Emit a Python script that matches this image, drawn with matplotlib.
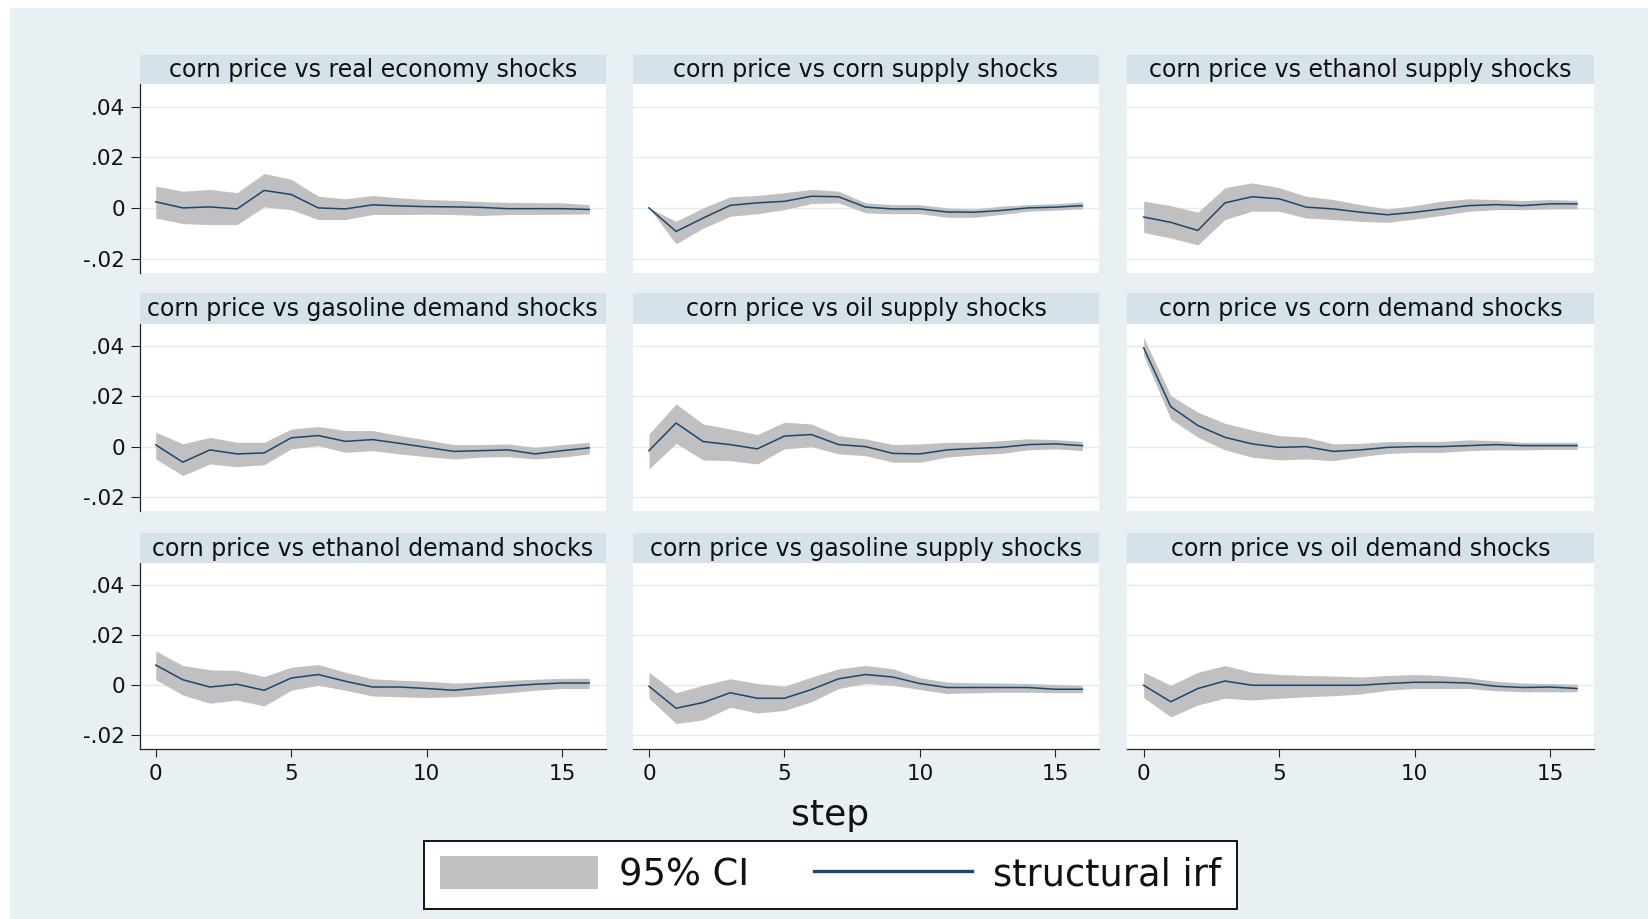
import numpy as np
import matplotlib
matplotlib.use("Agg")
import matplotlib.pyplot as plt
from matplotlib.patches import Rectangle, Patch
from matplotlib.lines import Line2D

plt.rcParams['font.family'] = ['DejaVu Sans']

# ---------------------------------------------------------------- data
steps = np.arange(17)

panel_titles = [
    "corn price vs real economy shocks",
    "corn price vs corn supply shocks",
    "corn price vs ethanol supply shocks",
    "corn price vs gasoline demand shocks",
    "corn price vs oil supply shocks",
    "corn price vs corn demand shocks",
    "corn price vs ethanol demand shocks",
    "corn price vs gasoline supply shocks",
    "corn price vs oil demand shocks",
]

# structural impulse responses
irf_real_economy = [.0024, .0000, .0004, -.0004, .0069, .0053, .0000, -.0004, .0012,
                    .0008, .0005, .0004, .0002, -.0003, -.0003, -.0003, -.0006]
irf_corn_supply = [.0000, -.0093, -.0040, .0010, .0020, .0026, .0046, .0044, .0003,
                   -.0004, -.0004, -.0016, -.0017, -.0010, .0000, .0003, .0009]
irf_ethanol_supply = [-.0036, -.0057, -.0089, .0020, .0044, .0036, .0003, -.0004, -.0017,
                      -.0027, -.0017, -.0004, .0009, .0013, .0009, .0016, .0016]
irf_gasoline_demand = [.0007, -.0062, -.0013, -.0029, -.0025, .0035, .0044, .0021, .0028,
                       .0013, -.0003, -.0019, -.0016, -.0013, -.0029, -.0016, -.0005]
irf_oil_supply = [-.0016, .0094, .0020, .0008, -.0009, .0042, .0048, .0008, .0000,
                  -.0027, -.0029, -.0013, -.0007, -.0003, .0008, .0011, .0004]
irf_corn_demand = [.0393, .0159, .0084, .0037, .0011, -.0003, .0000, -.0019, -.0013,
                   -.0003, .0000, .0000, .0004, .0008, .0004, .0004, .0004]
irf_ethanol_demand = [.0081, .0022, -.0007, .0004, -.0020, .0029, .0043, .0016, -.0007,
                      -.0007, -.0013, -.0020, -.0010, -.0003, .0004, .0009, .0009]
irf_gasoline_supply = [-.0004, -.0092, -.0069, -.0030, -.0052, -.0052, -.0017, .0026, .0043,
                       .0033, .0007, -.0009, -.0009, -.0009, -.0009, -.0016, -.0016]
irf_oil_demand = [.0000, -.0066, -.0013, .0017, .0000, .0000, .0000, .0000, .0000,
                  .0007, .0012, .0012, .0009, -.0004, -.0009, -.0007, -.0013]

# upper 95% confidence bounds
ci_hi_real_economy = [.0086, .0066, .0073, .0060, .0136, .0113, .0046, .0036, .0049,
                      .0040, .0033, .0030, .0025, .0022, .0021, .0020, .0013]
ci_hi_corn_supply = [.0000, -.0053, .0000, .0044, .0049, .0060, .0073, .0066, .0020,
                     .0013, .0013, .0000, -.0004, .0007, .0013, .0017, .0023]
ci_hi_ethanol_supply = [.0027, .0009, -.0017, .0080, .0099, .0080, .0046, .0033, .0013,
                        -.0004, .0009, .0027, .0036, .0033, .0029, .0033, .0030]
ci_hi_gasoline_demand = [.0057, .0011, .0037, .0017, .0017, .0070, .0080, .0064, .0064,
                         .0044, .0027, .0008, .0008, .0011, -.0003, .0008, .0017]
ci_hi_oil_supply = [.0050, .0170, .0090, .0070, .0048, .0097, .0090, .0044, .0031,
                    .0008, .0011, .0017, .0017, .0024, .0031, .0028, .0021]
ci_hi_corn_demand = [.0435, .0203, .0137, .0093, .0066, .0044, .0037, .0011, .0013,
                     .0020, .0021, .0021, .0027, .0024, .0017, .0017, .0017]
ci_hi_ethanol_demand = [.0138, .0079, .0062, .0059, .0035, .0072, .0083, .0052, .0026,
                        .0020, .0016, .0009, .0013, .0020, .0024, .0028, .0028]
ci_hi_gasoline_supply = [.0052, -.0030, .0000, .0026, .0007, -.0004, .0033, .0066, .0079,
                         .0066, .0030, .0013, .0010, .0009, .0007, .0003, .0000]
ci_hi_oil_demand = [.0052, .0000, .0052, .0079, .0052, .0043, .0039, .0037, .0033,
                    .0039, .0043, .0039, .0030, .0016, .0009, .0007, .0004]

# lower 95% confidence bounds
ci_lo_real_economy = [-.0040, -.0062, -.0066, -.0066, .0004, -.0007, -.0046, -.0046, -.0026,
                      -.0026, -.0025, -.0026, -.0030, -.0026, -.0026, -.0025, -.0024]
ci_lo_corn_supply = [.0000, -.0142, -.0080, -.0033, -.0023, -.0007, .0017, .0020, -.0020,
                     -.0023, -.0023, -.0037, -.0037, -.0026, -.0013, -.0009, -.0004]
ci_lo_ethanol_supply = [-.0097, -.0119, -.0146, -.0046, -.0013, -.0013, -.0040, -.0046, -.0053,
                        -.0057, -.0044, -.0030, -.0013, -.0007, -.0007, -.0004, -.0004]
ci_lo_gasoline_demand = [-.0049, -.0115, -.0069, -.0080, -.0072, -.0009, .0004, -.0023, -.0016,
                         -.0029, -.0040, -.0049, -.0042, -.0040, -.0049, -.0042, -.0029]
ci_lo_oil_supply = [-.0089, .0013, -.0053, -.0056, -.0069, -.0009, .0000, -.0029, -.0036,
                    -.0062, -.0062, -.0042, -.0033, -.0027, -.0013, -.0009, -.0016]
ci_lo_corn_demand = [.0362, .0110, .0037, -.0013, -.0042, -.0053, -.0049, -.0056, -.0040,
                     -.0027, -.0023, -.0023, -.0016, -.0013, -.0013, -.0011, -.0011]
ci_lo_ethanol_demand = [.0022, -.0039, -.0072, -.0059, -.0083, -.0020, .0000, -.0020, -.0043,
                        -.0046, -.0049, -.0046, -.0039, -.0030, -.0020, -.0013, -.0013]
ci_lo_gasoline_supply = [-.0052, -.0153, -.0138, -.0088, -.0111, -.0101, -.0066, -.0013, .0007,
                         .0000, -.0017, -.0033, -.0030, -.0028, -.0028, -.0030, -.0030]
ci_lo_oil_demand = [-.0049, -.0127, -.0079, -.0052, -.0059, -.0052, -.0046, -.0042, -.0035,
                    -.0020, -.0013, -.0013, -.0013, -.0022, -.0026, -.0026, -.0026]

irfs = [irf_real_economy, irf_corn_supply, irf_ethanol_supply,
        irf_gasoline_demand, irf_oil_supply, irf_corn_demand,
        irf_ethanol_demand, irf_gasoline_supply, irf_oil_demand]
ci_hi = [ci_hi_real_economy, ci_hi_corn_supply, ci_hi_ethanol_supply,
         ci_hi_gasoline_demand, ci_hi_oil_supply, ci_hi_corn_demand,
         ci_hi_ethanol_demand, ci_hi_gasoline_supply, ci_hi_oil_demand]
ci_lo = [ci_lo_real_economy, ci_lo_corn_supply, ci_lo_ethanol_supply,
         ci_lo_gasoline_demand, ci_lo_oil_supply, ci_lo_corn_demand,
         ci_lo_ethanol_demand, ci_lo_gasoline_supply, ci_lo_oil_demand]

y_ticks = [-0.02, 0.0, 0.02, 0.04]
y_tick_labels = ["-.02", "0", ".02", ".04"]
x_ticks = [0, 5, 10, 15]
x_tick_labels = ["0", "5", "10", "15"]

# ---------------------------------------------------------------- style
W, H = 1648, 919
BG = "#e9f0f3"
STRIP = "#d6e2e9"
CI_COLOR = "#c0c0c0"
LINE_COLOR = "#1a476f"
GRID = "#e4ebee"
TXT = "#111111"

fig = plt.figure(figsize=(W / 100, H / 100), dpi=100, facecolor="white")

# graph region
fig.add_artist(Rectangle((10 / W, 0), 1 - 10 / W, 1 - 8 / H,
                         transform=fig.transFigure, facecolor=BG,
                         edgecolor="none", zorder=0))

col_left = [139.5, 632.7, 1127.4]
col_width = 466.5
row_plot = [(84.3, 272.5), (324.0, 510.7), (563.3, 749.0)]
row_strip = [(55.0, 84.3), (293.3, 324.0), (533.3, 563.3)]


def fx(px):
    return px / W


def fy(py):
    return 1 - py / H


for i in range(9):
    r, c = divmod(i, 3)
    left = col_left[c]
    top, bottom = row_plot[r]
    ax = fig.add_axes([fx(left), fy(bottom), col_width / W, (bottom - top) / H])
    ax.set_facecolor("white")

    ax.fill_between(steps, ci_lo[i], ci_hi[i], color=CI_COLOR, linewidth=0, zorder=2)
    ax.plot(steps, irfs[i], color=LINE_COLOR, linewidth=1.1, zorder=3)

    ax.set_xlim(-0.6, 16.62)
    ax.set_ylim(-0.0255, 0.0488)
    ax.set_yticks(y_ticks)
    ax.set_xticks(x_ticks)
    ax.grid(axis="y", color=GRID, linewidth=1.0, zorder=1)
    ax.grid(axis="x", visible=False)
    ax.set_axisbelow(True)

    for side in ("top", "right"):
        ax.spines[side].set_visible(False)

    if c == 0:
        ax.spines["left"].set_color("#222222")
        ax.spines["left"].set_linewidth(0.9)
        ax.set_yticklabels(y_tick_labels)
        ax.tick_params(axis="y", length=6.5, width=0.8, color="#222222",
                       labelsize=15.5, labelcolor=TXT, pad=4.0)
    else:
        ax.spines["left"].set_visible(False)
        ax.tick_params(axis="y", left=False, labelleft=False)

    if r == 2:
        ax.spines["bottom"].set_color("#222222")
        ax.spines["bottom"].set_linewidth(0.9)
        ax.set_xticklabels(x_tick_labels)
        ax.tick_params(axis="x", length=5.5, width=0.8, color="#222222",
                       labelsize=15.5, labelcolor=TXT, pad=5.0)
    else:
        ax.spines["bottom"].set_visible(False)
        ax.tick_params(axis="x", bottom=False, labelbottom=False)

    # panel title strip
    s_top, s_bot = row_strip[r]
    fig.add_artist(Rectangle((fx(left), fy(s_bot)), col_width / W, (s_bot - s_top) / H,
                             transform=fig.transFigure, facecolor=STRIP,
                             edgecolor="none", zorder=1))
    fig.text(fx(left + col_width / 2), fy((s_top + s_bot) / 2 + 0.5), panel_titles[i],
             ha="center", va="center", fontsize=17, color=TXT)

# shared x-axis title
fig.text(fx(830.5), fy(815), "step", ha="center", va="center", fontsize=26, color=TXT)

# legend
handles = [Patch(facecolor=CI_COLOR, edgecolor="none"),
           Line2D([0], [0], color=LINE_COLOR, linewidth=2.4)]
leg = fig.legend(handles, ["95% CI", "structural irf"], ncol=2,
                 loc="center", bbox_to_anchor=(fx(830.5), fy(875)),
                 fontsize=26.5, frameon=True, fancybox=False,
                 edgecolor="black", facecolor="white", framealpha=1,
                 handlelength=4.3, handleheight=1.0, handletextpad=0.58,
                 columnspacing=1.75, borderpad=0.42, labelcolor=TXT)
leg.get_frame().set_linewidth(1.3)

fig.savefig("out.png", dpi=100, facecolor="white")
